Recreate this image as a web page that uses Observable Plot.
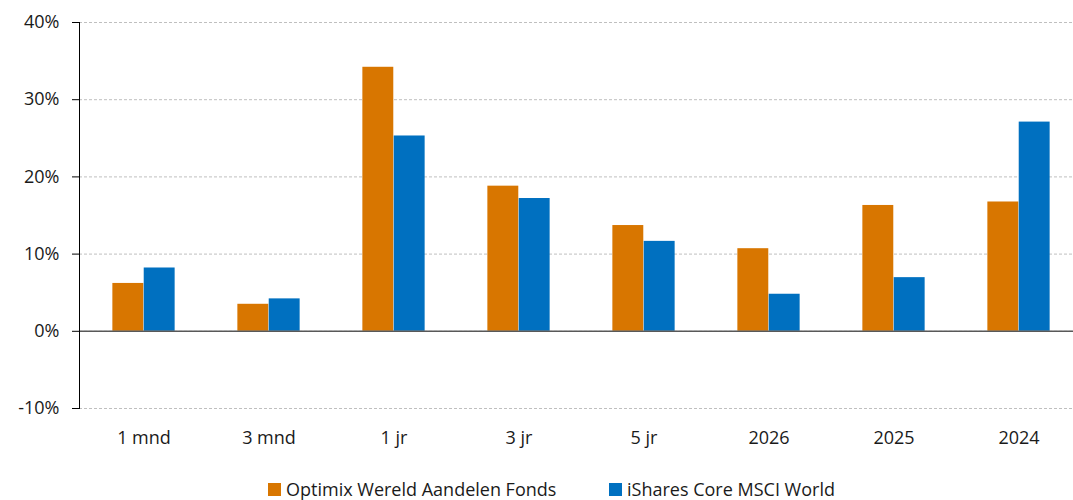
<!DOCTYPE html>
<html>
<head>
<meta charset="utf-8">
<script src="https://cdn.jsdelivr.net/npm/d3@7"></script>
<script src="https://cdn.jsdelivr.net/npm/@observablehq/plot@0.6"></script>
<style>
  html, body { margin: 0; padding: 0; background: #fff; }
  body { width: 1073px; height: 500px; overflow: hidden; font-family: "Open Sans", sans-serif; }
  #legend { display: flex; align-items: center; margin-left: 268px; margin-top: 17px; font-size: 18px; color: #1a1a1a; }
  .item { display: flex; align-items: center; }
  .item.first { width: 341px; }
  .sw { width: 13px; height: 13px; margin-right: 5px; }
</style>
</head>
<body>
<div id="chart"></div>
<div id="legend"></div>
<script>
const categories = ["1 mnd", "3 mnd", "1 jr", "3 jr", "5 jr", "2026", "2025", "2024"];
const seriesNames = ["Optimix Wereld Aandelen Fonds", "iShares Core MSCI World"];
const optimix = [6.2, 3.5, 34.2, 18.8, 13.7, 10.7, 16.3, 16.75];
const ishares = [8.2, 4.2, 25.3, 17.2, 11.65, 4.8, 6.95, 27.1];
const yTicks = [-10, 0, 10, 20, 30, 40];
const colors = ["#D87600", "#0070C0"];

const dataO = categories.map((c, i) => ({cat: c, value: optimix[i]}));
const dataI = categories.map((c, i) => ({cat: c, value: ishares[i]}));

const W = 1073, mL = 79;
const step = 125.43;
const barW = step / 4;

const plot = Plot.plot({
  width: W,
  height: 460,
  marginLeft: mL,
  marginRight: 0,
  marginTop: 22,
  marginBottom: 52,
  style: {fontFamily: "Open Sans, sans-serif", fontSize: "18px", color: "#1a1a1a", background: "#fff"},
  x: {domain: categories, padding: 0, range: [mL + 0.3, mL + 0.3 + step * categories.length], label: null},
  y: {domain: [-10, 40], label: null},
  marks: [
    Plot.gridY(yTicks, {stroke: "#bfbfbf", strokeOpacity: 1, strokeDasharray: "3,2"}),
    Plot.barY(dataO, {x: "cat", y: "value", fill: colors[0], insetLeft: step / 2 - barW, insetRight: step / 2}),
    Plot.barY(dataI, {x: "cat", y: "value", fill: colors[1], insetLeft: step / 2, insetRight: step / 2 - barW}),
    Plot.ruleY([0], {stroke: "#595959", strokeWidth: 1.5}),
    Plot.frame({anchor: "left", stroke: "#000"}),
    Plot.axisY({ticks: yTicks, tickFormat: d => d + "%", tickSize: 7, tickPadding: 13, stroke: "#000", fontSize: 18}),
    Plot.axisX({tickSize: 0, tickPadding: 23, fontSize: 18})
  ]
});
document.getElementById("chart").appendChild(plot);

const legend = document.getElementById("legend");
seriesNames.forEach((name, i) => {
  const item = document.createElement("div");
  item.className = i === 0 ? "item first" : "item";
  const sw = document.createElement("div");
  sw.className = "sw";
  sw.style.background = colors[i];
  const t = document.createElement("span");
  t.textContent = name;
  item.appendChild(sw);
  item.appendChild(t);
  legend.appendChild(item);
});
</script>
</body>
</html>
